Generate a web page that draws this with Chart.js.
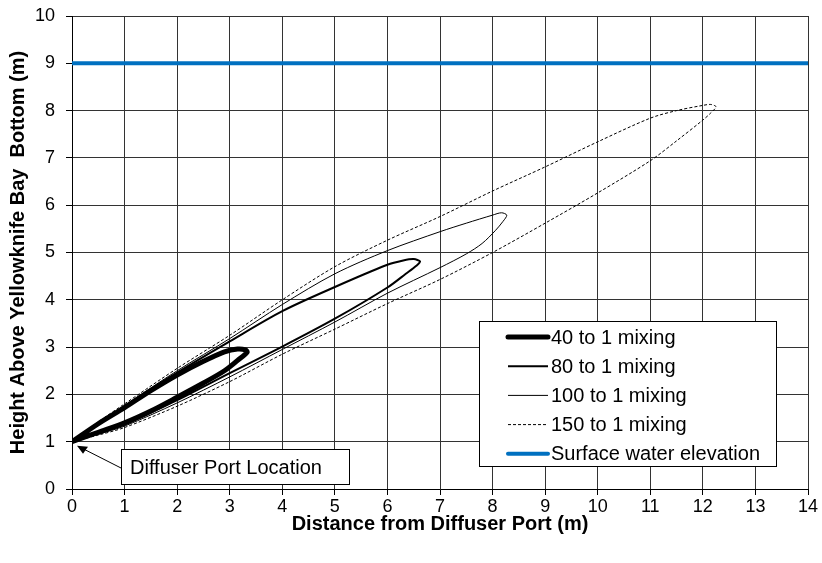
<!DOCTYPE html>
<html>
<head>
<title>Plume mixing</title>
<script src="https://cdn.jsdelivr.net/npm/chart.js@4.4.0/dist/chart.umd.min.js"></script>
<style>
  body { margin: 0; background: #fff; }
</style>
</head>
<body>
<canvas id="myChart" width="822" height="563"></canvas>
<script>
// series names (legend order)
const seriesNames = ['40 to 1 mixing', '80 to 1 mixing', '100 to 1 mixing', '150 to 1 mixing', 'Surface water elevation'];

// plume outlines: from the port up the top edge to the tip, then back along the bottom edge
const mix40 = [[0, 1], [0.5, 1.38], [1, 1.72], [1.5, 2.08], [2, 2.41], [2.5, 2.7], [2.9, 2.9], [3.15, 2.96], [3.3, 2.94],
  [3.33, 2.89], [3.15, 2.72], [2.9, 2.5], [2.5, 2.24], [2, 1.94], [1.5, 1.65], [1, 1.4], [0.5, 1.2], [0, 1]];
const mix80 = [[0, 1], [0.5, 1.39], [1, 1.75], [2, 2.46], [3, 3.12], [4, 3.76], [5, 4.27], [6, 4.74], [6.3, 4.83], [6.5, 4.86],
  [6.62, 4.81], [6.55, 4.72], [6.35, 4.55], [6, 4.26], [5, 3.6], [4, 3.01], [3, 2.45], [2, 1.88], [1, 1.36], [0.5, 1.17], [0, 1]];
const mix100 = [[0, 1], [0.5, 1.4], [1, 1.77], [2, 2.5], [3, 3.18], [4, 3.9], [5, 4.55], [6, 5.04], [7, 5.44], [7.5, 5.62],
  [8, 5.79], [8.17, 5.84], [8.27, 5.79], [8.2, 5.66], [8.05, 5.46], [7.8, 5.19], [7.5, 4.97], [7, 4.68], [6, 4.14], [5, 3.53],
  [4, 2.95], [3, 2.37], [2, 1.82], [1, 1.33], [0.5, 1.16], [0, 1]];
const mix150 = [[0, 1], [0.5, 1.42], [1, 1.8], [2, 2.55], [3, 3.25], [4, 4.0], [5, 4.7], [6, 5.26], [7, 5.76], [8, 6.3],
  [9, 6.81], [10, 7.34], [11, 7.84], [11.5, 8.0], [12, 8.11], [12.15, 8.13], [12.25, 8.08], [12.15, 7.95], [12, 7.8],
  [11.5, 7.36], [11, 6.94], [10, 6.26], [9, 5.62], [8, 5.0], [7, 4.43], [6, 3.92], [5, 3.38], [4, 2.85], [3, 2.27],
  [2, 1.75], [1, 1.3], [0.5, 1.14], [0, 1]];
const surface = [[0, 9], [14, 9]];

const xTicks = [0, 1, 2, 3, 4, 5, 6, 7, 8, 9, 10, 11, 12, 13, 14];
const yTicks = [0, 1, 2, 3, 4, 5, 6, 7, 8, 9, 10];

const FONT = 'Arial, "Liberation Sans", sans-serif';

function toPoints(arr) {
  return arr.map(p => ({ x: p[0], y: p[1] }));
}

// legend box + "Diffuser Port Location" callout, drawn over the plot
const overlay = {
  id: 'overlay',
  afterDraw(chart) {
    const ctx = chart.ctx;
    ctx.save();

    // legend
    ctx.fillStyle = '#fff';
    ctx.fillRect(479.5, 321.5, 297, 145);
    ctx.strokeStyle = '#000';
    ctx.lineWidth = 1;
    ctx.strokeRect(479.5, 321.5, 297, 145);
    ctx.font = '20px ' + FONT;
    ctx.textBaseline = 'middle';
    chart.data.datasets.forEach((ds, i) => {
      const y = 337 + i * 29.2;
      ctx.beginPath();
      ctx.lineWidth = ds.borderWidth;
      ctx.strokeStyle = ds.borderColor;
      ctx.lineCap = ds.borderWidth > 2 ? 'round' : 'butt';
      ctx.setLineDash(ds.borderDash || []);
      ctx.moveTo(508, y);
      ctx.lineTo(548, y);
      ctx.stroke();
      ctx.setLineDash([]);
      ctx.fillStyle = '#000';
      ctx.fillText(ds.label, 551, y + 1);
    });

    // callout
    ctx.fillStyle = '#fff';
    ctx.fillRect(121.5, 449.5, 228, 35);
    ctx.strokeStyle = '#000';
    ctx.lineWidth = 1;
    ctx.strokeRect(121.5, 449.5, 228, 35);
    ctx.fillStyle = '#000';
    ctx.fillText('Diffuser Port Location', 130, 468);

    // arrow to the port
    const x0 = chart.scales.x.getPixelForValue(0) + 5;
    const y0 = chart.scales.y.getPixelForValue(1) + 4;
    ctx.beginPath();
    ctx.lineWidth = 1;
    ctx.moveTo(121, 468);
    ctx.lineTo(x0 + 4, y0 + 2);
    ctx.stroke();
    ctx.beginPath();
    ctx.moveTo(x0, y0);
    ctx.lineTo(x0 + 11, y0 + 1);
    ctx.lineTo(x0 + 6, y0 + 8);
    ctx.closePath();
    ctx.fill();

    ctx.restore();
  }
};

const styles = [
  { borderWidth: 5 },
  { borderWidth: 2 },
  { borderWidth: 1 },
  { borderWidth: 1, borderDash: [3, 2] },
  { borderWidth: 4 }
];
const series = [mix40, mix80, mix100, mix150, surface];

const datasets = series.map((s, i) => Object.assign({
  label: seriesNames[i],
  data: toPoints(s),
  showLine: true,
  fill: false,
  borderColor: i === 4 ? '#0070C0' : '#000',
  pointRadius: 0,
  tension: i === 4 ? 0 : 0.3
}, styles[i]));

new Chart(document.getElementById('myChart'), {
  type: 'scatter',
  data: { datasets: datasets },
  options: {
    responsive: false,
    animation: false,
    devicePixelRatio: 1,
    layout: { padding: { top: 16, right: 14, left: 0, bottom: 0 } },
    plugins: { legend: { display: false }, tooltip: { enabled: false } },
    scales: {
      x: {
        type: 'linear',
        min: 0,
        max: 14,
        afterBuildTicks: scale => { scale.ticks = xTicks.map(v => ({ value: v })); },
        afterFit: scale => { scale.height = 74; scale.paddingLeft = 0; scale.paddingRight = 0; },
        ticks: { color: '#000', font: { family: FONT, size: 18 }, padding: 1, maxRotation: 0 },
        grid: { color: '#333', tickColor: '#000', tickLength: 6 },
        border: { color: '#000' },
        title: {
          display: true,
          text: 'Distance from Diffuser Port (m)',
          color: '#000',
          font: { family: FONT, size: 20, weight: 'bold' },
          padding: { top: 4, bottom: 27 }
        }
      },
      y: {
        type: 'linear',
        min: 0,
        max: 10,
        afterBuildTicks: scale => { scale.ticks = yTicks.map(v => ({ value: v })); },
        afterFit: scale => { scale.width = 72; scale.paddingTop = 0; scale.paddingBottom = 0; },
        ticks: { color: '#000', font: { family: FONT, size: 18 }, padding: 11 },
        grid: { color: '#333', tickColor: '#000', tickLength: 6 },
        border: { color: '#000' },
        title: {
          display: true,
          text: 'Height Above Yellowknife Bay  Bottom (m)',
          color: '#000',
          font: { family: FONT, size: 20, weight: 'bold' },
          padding: { top: 6 }
        }
      }
    }
  },
  plugins: [overlay]
});
</script>
</body>
</html>
